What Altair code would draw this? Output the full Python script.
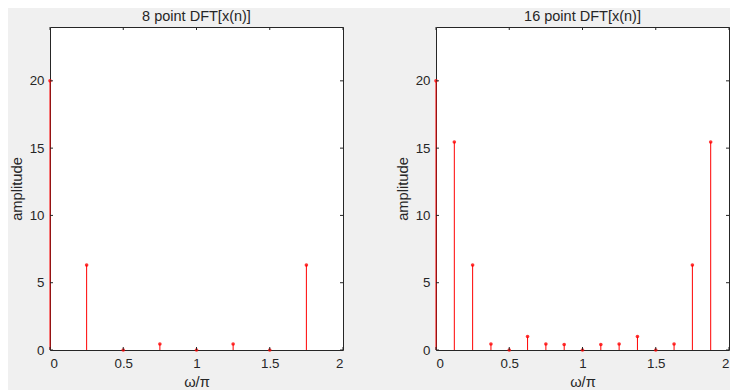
import altair as alt
import pandas as pd

# ---- data ----
x8 = [0.0, 0.25, 0.5, 0.75, 1.0, 1.25, 1.5, 1.75]
amp8 = [20.0, 6.31, 0.0, 0.45, 0.0, 0.45, 0.0, 6.31]

x16 = [0.0, 0.125, 0.25, 0.375, 0.5, 0.625, 0.75, 0.875,
       1.0, 1.125, 1.25, 1.375, 1.5, 1.625, 1.75, 1.875]
amp16 = [20.0, 15.45, 6.31, 0.45, 0.0, 1.0, 0.45, 0.41,
         0.0, 0.41, 0.45, 1.0, 0.0, 0.45, 6.31, 15.45]

titles = ["8 point DFT[x(n)]", "16 point DFT[x(n)]"]
x_ticks = [0, 0.5, 1, 1.5, 2]
y_ticks = [0, 5, 10, 15, 20]
x_title = "ω/π"
y_title = "amplitude"

# ---- style ----
W, H = 293, 323
TL = 3
FONT = "Liberation Sans"
AX = "#262626"
RED = "#ff0000"


def panel(xs, ys, title):
    df = pd.DataFrame({"w": xs, "amp": ys})
    xsc = alt.Scale(domain=[0, 2], nice=False, zero=False)
    ysc = alt.Scale(domain=[0, 24], nice=False)
    xax = alt.Axis(values=x_ticks, format="~g", title=x_title)
    yax = alt.Axis(values=y_ticks, format="~g", title=y_title)
    base = alt.Chart(df)
    stems = base.mark_rule(color=RED, strokeWidth=1).encode(
        x=alt.X("w:Q", scale=xsc, axis=xax),
        y=alt.Y("amp:Q", scale=ysc, axis=yax),
        y2=alt.datum(0),
    )
    dots = base.mark_circle(color=RED, size=13, opacity=0.8).encode(
        x=alt.X("w:Q", scale=xsc, axis=xax),
        y=alt.Y("amp:Q", scale=ysc, axis=yax),
    )
    ydf = pd.DataFrame({"t": y_ticks})
    xdf = pd.DataFrame({"t": x_ticks})
    ytl = alt.Chart(ydf).mark_rule(color=AX).encode(
        y=alt.Y("t:Q", scale=ysc, axis=yax), x=alt.value(0), x2=alt.value(TL))
    ytr = alt.Chart(ydf).mark_rule(color=AX).encode(
        y=alt.Y("t:Q", scale=ysc, axis=yax), x=alt.value(W - TL), x2=alt.value(W))
    xtb = alt.Chart(xdf).mark_rule(color=AX).encode(
        x=alt.X("t:Q", scale=xsc, axis=xax), y=alt.value(H - TL), y2=alt.value(H))
    xtt = alt.Chart(xdf).mark_rule(color=AX).encode(
        x=alt.X("t:Q", scale=xsc, axis=xax), y=alt.value(0), y2=alt.value(TL))
    return alt.layer(stems, dots, ytl, ytr, xtb, xtt).properties(
        width=W, height=H, title=title)


chart = alt.hconcat(
    panel(x8, amp8, titles[0]),
    panel(x16, amp16, titles[1]),
    spacing=50,
).configure(
    background="#f0f0f0",
    padding={"left": 0, "top": 0, "right": 0, "bottom": 0},
).configure_view(
    fill="white", stroke=AX, strokeWidth=1,
).configure_axis(
    domain=False, ticks=False, grid=False,
    labelFont=FONT, labelFontSize=13.3, labelColor=AX, labelPadding=6,
    titleFont=FONT, titleFontSize=14.7, titleFontWeight="normal",
    titleColor=AX, titlePadding=5,
).configure_title(
    font=FONT, fontSize=14.5, fontWeight="normal", color=AX,
    offset=2, anchor="middle",
)

chart.save("out.html", embed_options={"renderer": "svg", "actions": False})
